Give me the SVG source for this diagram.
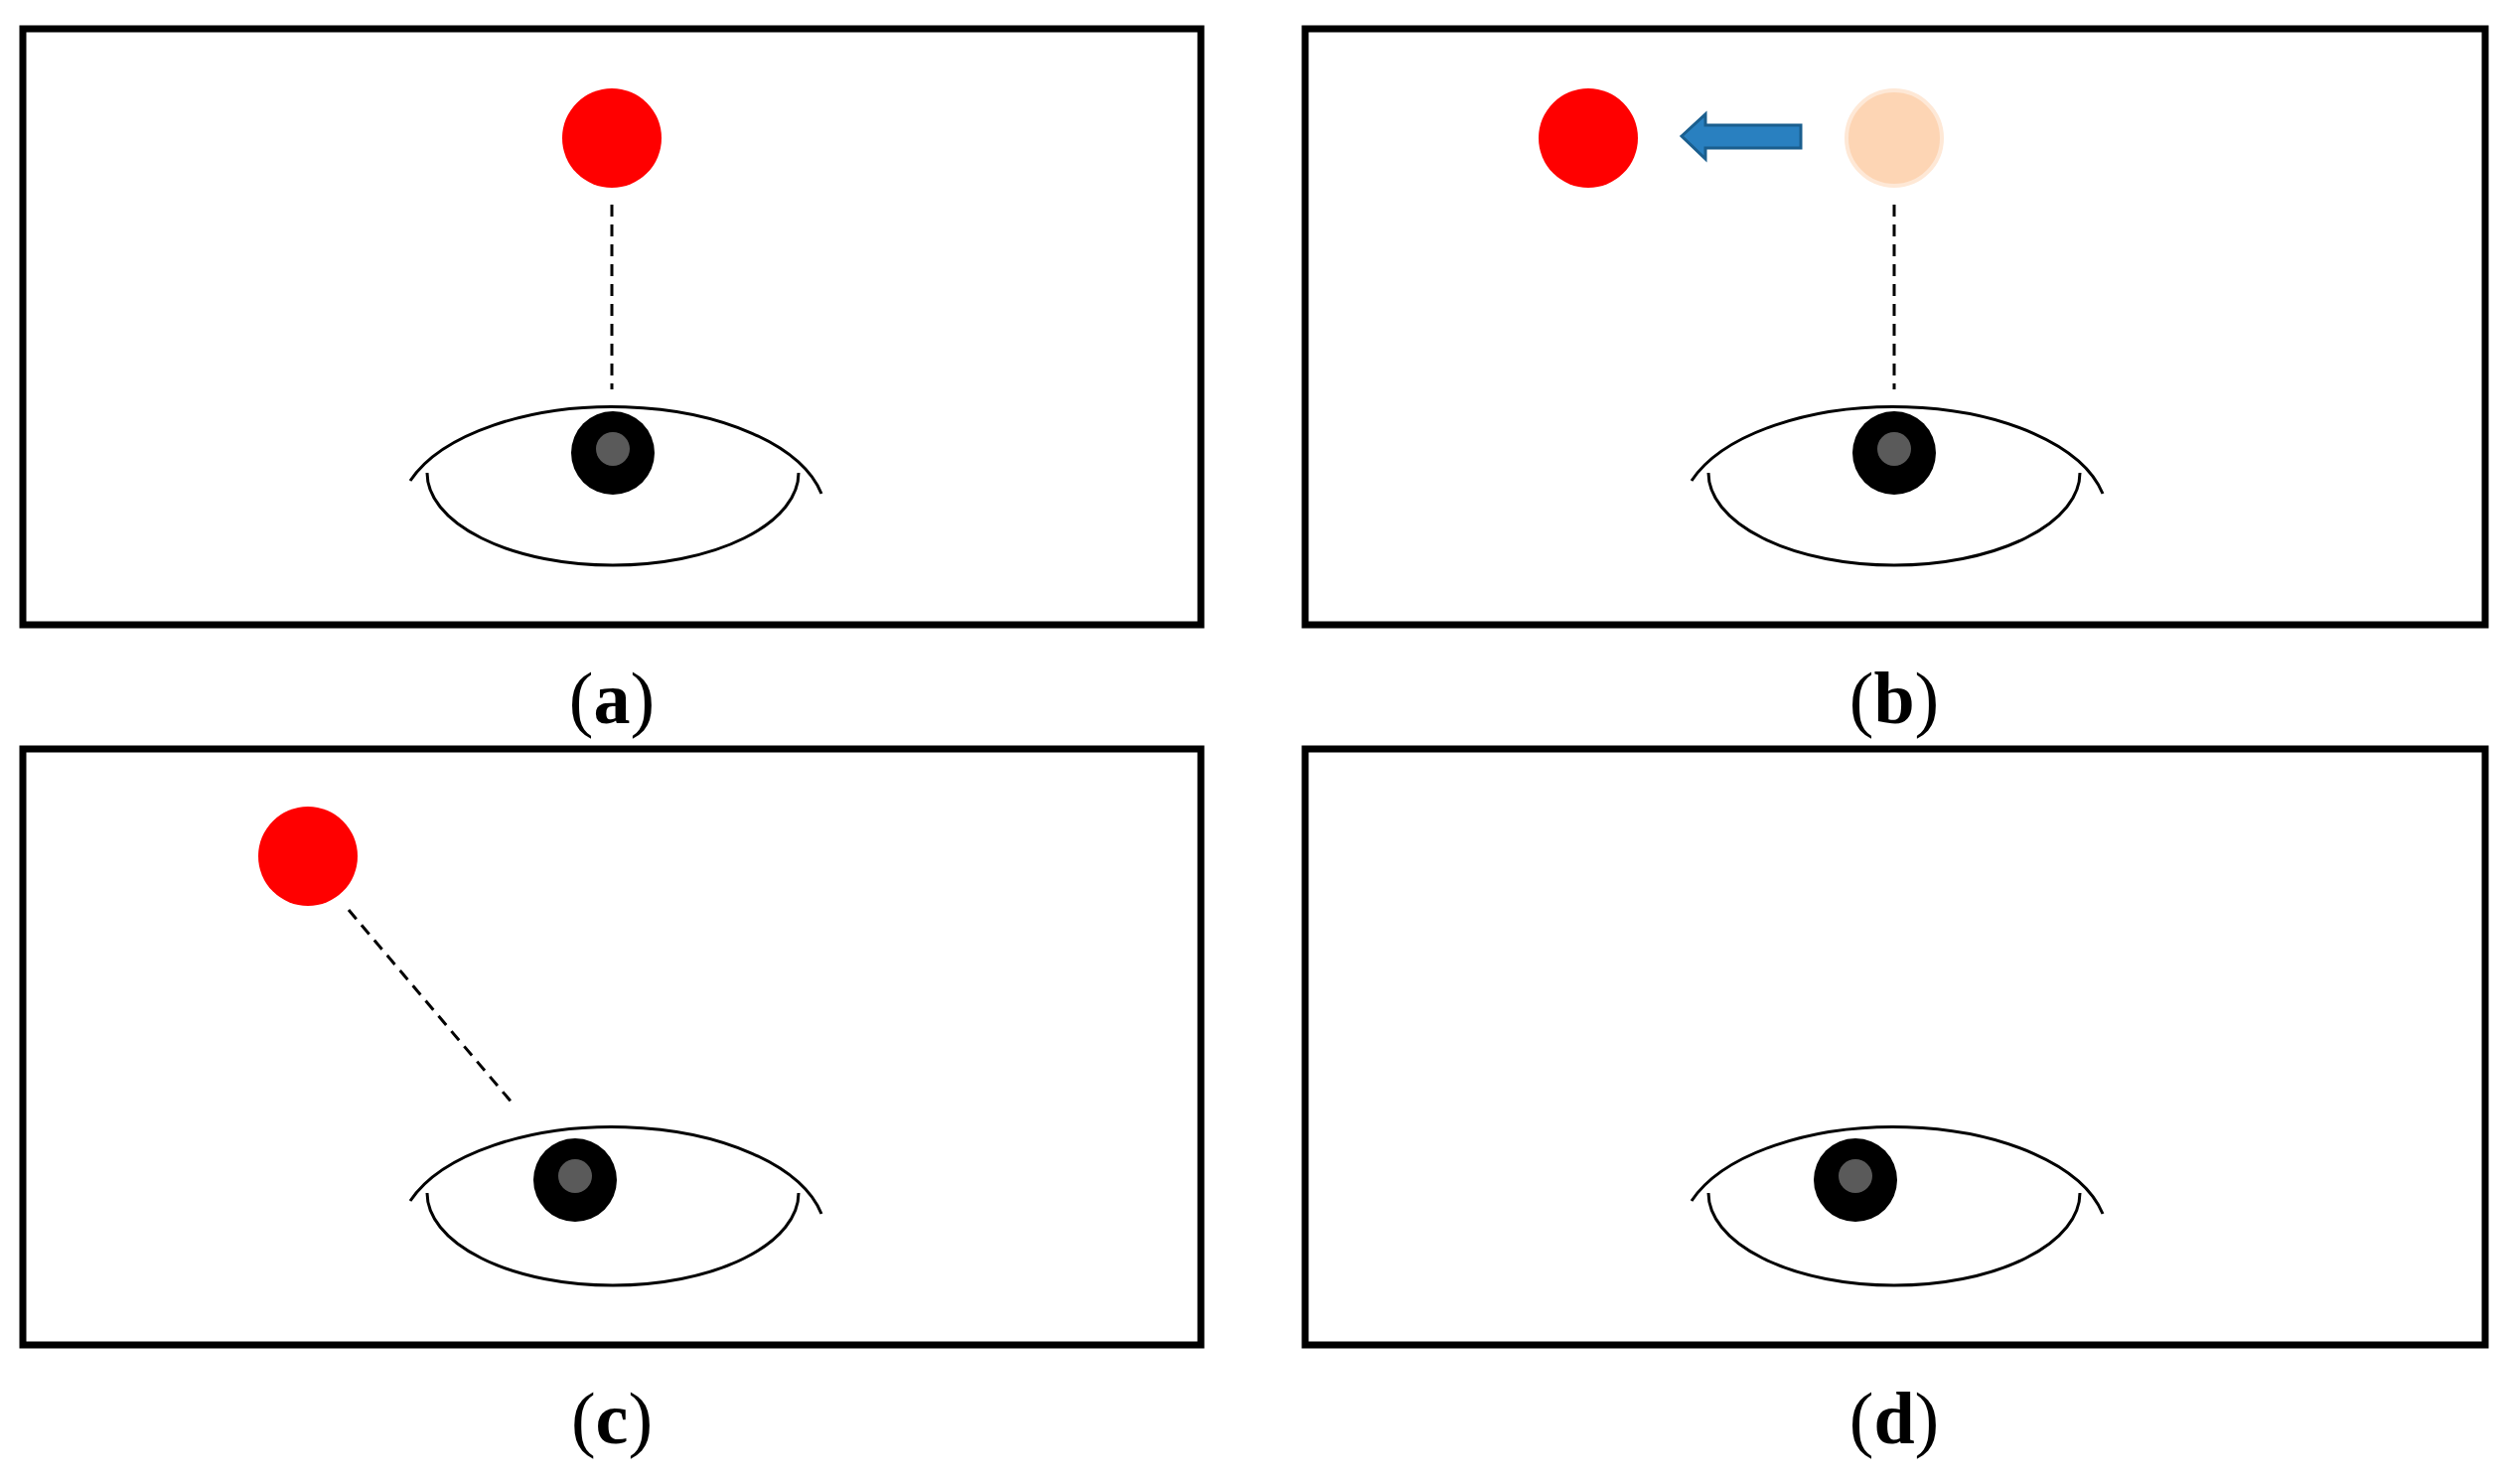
<svg xmlns="http://www.w3.org/2000/svg" width="2528" height="1494" viewBox="0 0 2528 1494">
<defs>
<style>
.frame{fill:none;stroke:#000;stroke-width:7}
.lid{fill:none;stroke:#000;stroke-width:3}
.dash{stroke:#000;stroke-width:3;stroke-dasharray:12 8;fill:none}
.lbl{font-family:"Liberation Serif",serif;font-size:74px;text-anchor:middle;fill:#000}
.b{font-weight:bold}
</style>
<g id="eye">
<path class="lid" d="M413,484 A215,110 0 0 1 827,497"/>
<path class="lid" d="M430,476 A187,93 0 0 0 804,476"/>
</g>
</defs>
<rect width="2528" height="1494" fill="#fff"/>
<g id="panel-a">
<rect class="frame" x="23" y="29" width="1186" height="600"/>
<circle cx="616" cy="139" r="50" fill="#f00"/>
<use href="#eye"/>
<circle cx="617" cy="456" r="42" fill="#000"/>
<circle cx="617" cy="452" r="17" fill="#5a5a5a"/>
<text class="lbl" x="616" y="728">(<tspan class="b">a</tspan>)</text>
</g>
<g id="panel-b">
<rect class="frame" x="1314" y="29" width="1188" height="600"/>
<circle cx="1599" cy="139" r="50" fill="#f00"/>
<circle cx="1907" cy="139" r="48" fill="#fdd5b4" stroke="#fee8d6" stroke-width="4"/>
<path d="M1693,137 L1717,115 L1717,126 L1813,126 L1813,149 L1717,149 L1717,160 Z" fill="#2980c0" stroke="#1a5e8e" stroke-width="3"/>
<use href="#eye" x="1290"/>
<circle cx="1907" cy="456" r="42" fill="#000"/>
<circle cx="1907" cy="452" r="17" fill="#5a5a5a"/>
<text class="lbl" x="1907" y="728">(<tspan class="b">b</tspan>)</text>
</g>
<g id="panel-c">
<rect class="frame" x="23" y="754" width="1186" height="600"/>
<circle cx="310" cy="862" r="50" fill="#f00"/>
<use href="#eye" y="725"/>
<circle cx="579" cy="1188" r="42" fill="#000"/>
<circle cx="579" cy="1184" r="17" fill="#5a5a5a"/>
<text class="lbl" x="616" y="1453">(<tspan class="b">c</tspan>)</text>
</g>
<g id="panel-d">
<rect class="frame" x="1314" y="754" width="1188" height="600"/>
<use href="#eye" x="1290" y="725"/>
<circle cx="1868" cy="1188" r="42" fill="#000"/>
<circle cx="1868" cy="1184" r="17" fill="#5a5a5a"/>
<text class="lbl" x="1907" y="1453">(<tspan class="b">d</tspan>)</text>
</g>
<g id="connectors">
<line class="dash" x1="616" y1="206" x2="616" y2="392"/>
<line class="dash" x1="1907" y1="206" x2="1907" y2="392"/>
<line class="dash" x1="351" y1="916" x2="517" y2="1112"/>
</g>
</svg>
